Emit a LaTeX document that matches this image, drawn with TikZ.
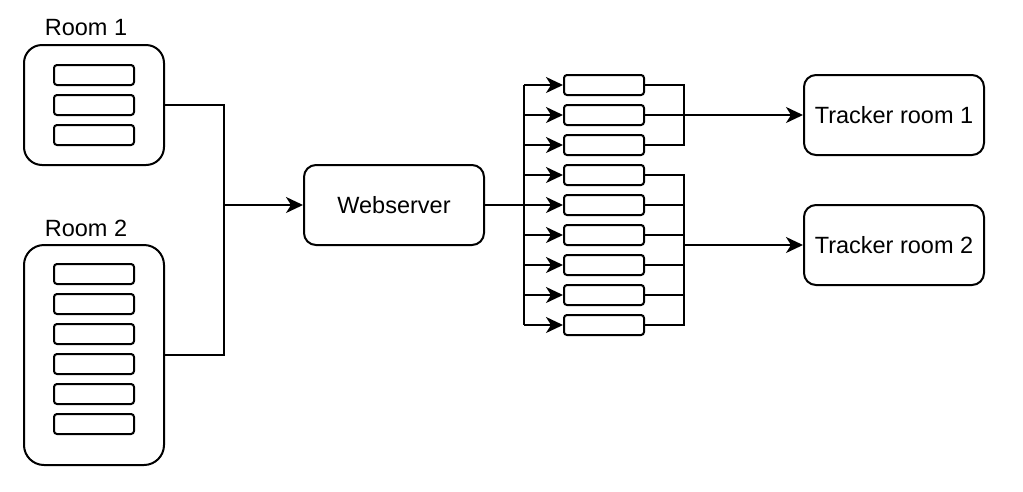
\documentclass[tikz,border=0pt]{standalone}
\usepackage{fontspec}
\setmainfont{Liberation Sans}
\usetikzlibrary{arrows.meta}
\begin{document}
\begin{tikzpicture}[x=1pt,y=-1pt,
  line width=2pt,
  txt/.style={font=\fontsize{23.5}{28}\selectfont},
  room/.style={draw, line width=2pt, rounded corners=18pt, minimum width=140pt, inner sep=0pt},
  slot/.style={draw, line width=2pt, rounded corners=3pt, minimum width=80pt, minimum height=20pt, inner sep=0pt},
  box/.style={draw, line width=2pt, rounded corners=12pt, minimum width=180pt, minimum height=80pt, inner sep=0pt, txt},
  conn/.style={line width=2pt},
  arr/.style={line width=2pt, -{Stealth[length=17pt, width=16pt, inset=5pt]}}
]
\useasboundingbox (0,0) rectangle (1023,491);

% rooms
\node[room, minimum height=120pt] (room1) at (94,105) {};
\node[room, minimum height=220pt, rounded corners=20pt] (room2) at (94,355) {};
\node[txt] (lbl1) at (86,28) {Room 1};
\node[txt] (lbl2) at (86,228) {Room 2};

\foreach \i/\y in {1/75,2/105,3/135}
  \node[slot] (a\i) at (94,\y) {};
\foreach \i/\y in {1/274,2/304,3/334,4/364,5/394,6/424}
  \node[slot] (b\i) at (94,\y) {};

% webserver
\node[box] (web) at (394,205) {\raisebox{-1.5pt}{Webserver}};

% queues
\foreach \i in {1,...,9}
  \node[slot] (s\i) at (604,{85+30*(\i-1)}) {};

% trackers
\node[box] (t1) at (894,115) {\raisebox{-1.5pt}{Tracker room 1}};
\node[box] (t2) at (894,245) {\raisebox{-1.5pt}{Tracker room 2}};

% left connectors
\coordinate (jL) at (224,205);
\draw[conn] (room1.east) -| (jL);
\draw[conn] (room2.east) -| (jL);
\draw[arr] (jL) -- (web.west);

% bus to queues
\coordinate (bus) at (524,205);
\draw[conn] (web.east) -- (bus);
\draw[conn] (s1.west -| bus) -- (s9.west -| bus);
\foreach \i in {1,...,9}
  \draw[arr] (s\i.west -| bus) -- (s\i.west);

% merge group 1
\coordinate (m1) at (684,115);
\draw[conn] (s1.east) -| (m1);
\draw[conn] (s3.east) -| (m1);
\draw[conn] (s2.east) -- (m1);
\draw[arr] (m1) -- (t1.west);

% merge group 2
\coordinate (m2) at (684,245);
\draw[conn] (s4.east) -| (m2);
\draw[conn] (s9.east) -| (m2);
\foreach \i in {5,...,8}
  \draw[conn] (s\i.east) -- (s\i.east -| m2);
\draw[arr] (m2) -- (t2.west);
\end{tikzpicture}
\end{document}
